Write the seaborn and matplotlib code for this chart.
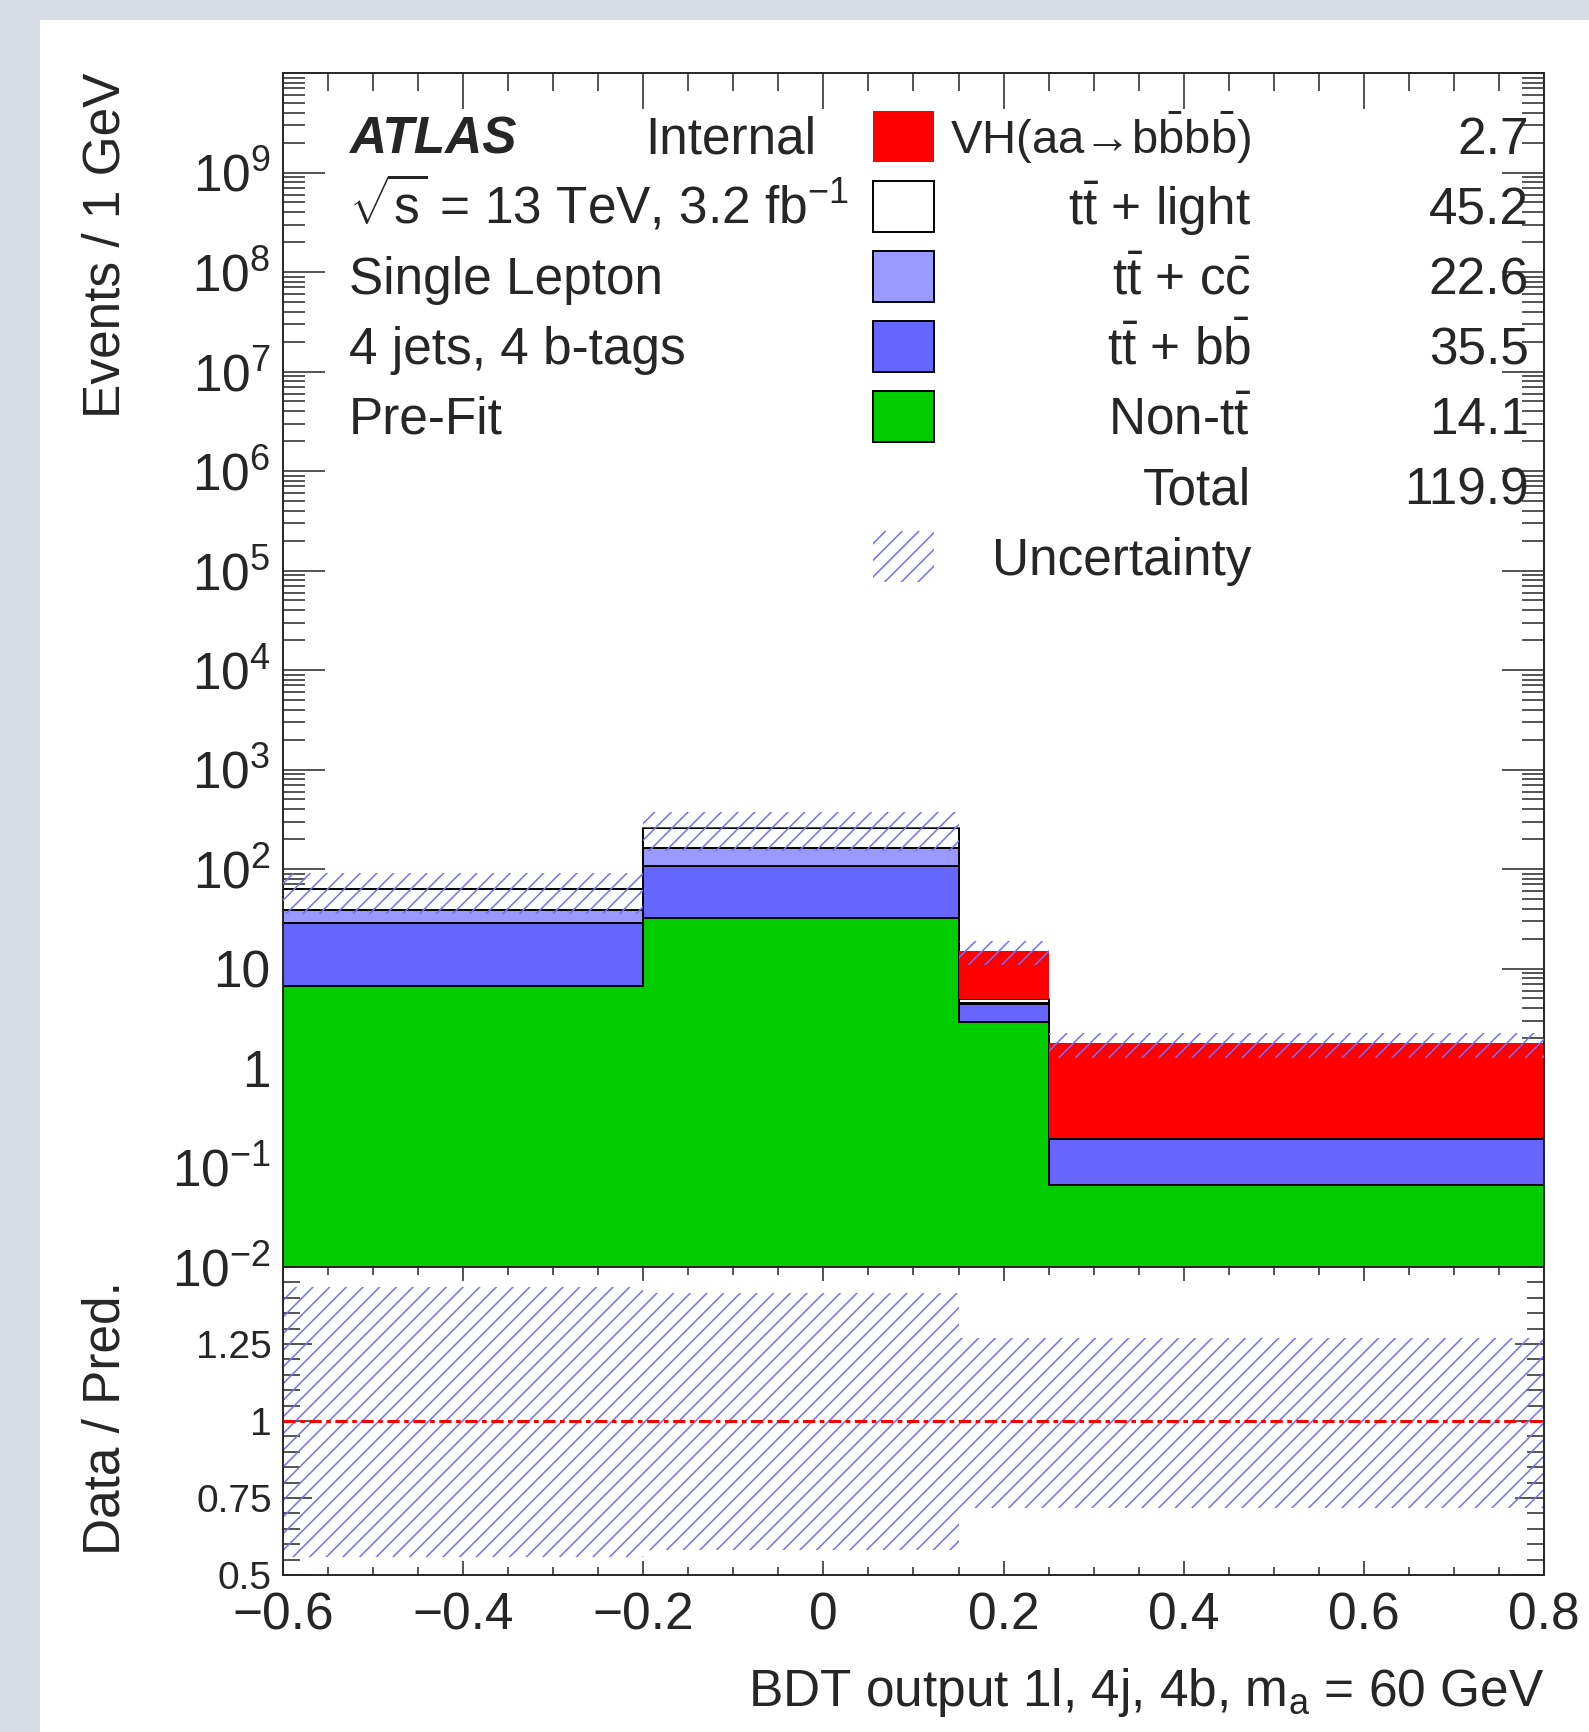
import numpy as np
import pandas as pd
import matplotlib
matplotlib.use("Agg")
import matplotlib.pyplot as plt
import matplotlib.ticker as mticker
from matplotlib.patches import Rectangle
import seaborn as sns

# BDT output binning
edges = [-0.6, -0.2, 0.15, 0.25, 0.8]

# stacked yields per bin (events / 1 GeV), top of the stack first
processes = ["VH", "tt_light", "tt_cc", "tt_bb", "non_tt"]
vh = [0.2, 0.5, 10.1, 1.58]
tt_light = [24.3, 100.0, 0.45, 0.002]
tt_cc = [10.1, 54.0, 0.05, 0.001]
tt_bb = [21.9, 74.8, 1.5, 0.127]
non_tt = [6.7, 32.2, 2.9, 0.067]

# relative uncertainty of the total prediction
unc_up = [0.435, 0.416, 0.27, 0.27]
unc_down = [0.442, 0.42, 0.283, 0.283]

# legend
legend_labels = ["VH(aa\u2192b" + r"$\mathrm{\bar{b}}$" + "b" + r"$\mathrm{\bar{b}}$" + ")",
                 r"$\mathrm{t\bar{t}}$ + light",
                 r"$\mathrm{t\bar{t}}$ + $\mathrm{c\bar{c}}$",
                 r"$\mathrm{t\bar{t}}$ + $\mathrm{b\bar{b}}$",
                 r"Non-$\mathrm{t\bar{t}}$"]
legend_yields = ["2.7", "45.2", "22.6", "35.5", "14.1"]
total_yield = "119.9"
info_lines = [r"$\sqrt{\mathrm{s}}$ = 13 TeV, 3.2 fb$^{\mathrm{-1}}$",
              "Single Lepton", "4 jets, 4 b-tags", "Pre-Fit"]

colors = ["#ff0000", "#ffffff", "#9999ff", "#6666ff", "#00cc00"]
hatch_col = "#7070ff"

sns.set_style("ticks")
plt.rcParams["font.family"] = ["Liberation Sans", "DejaVu Sans"]
plt.rcParams["mathtext.fontset"] = "custom"
plt.rcParams["mathtext.rm"] = "Liberation Sans"
plt.rcParams["mathtext.it"] = "Liberation Sans:italic"
plt.rcParams["mathtext.bf"] = "Liberation Sans:bold"
plt.rcParams["hatch.linewidth"] = 1.1
plt.rcParams["hatch.color"] = hatch_col

centers = [(a + b) / 2 for a, b in zip(edges[:-1], edges[1:])]
rows = []
for name, vals in zip(processes, [vh, tt_light, tt_cc, tt_bb, non_tt]):
    for c, v in zip(centers, vals):
        rows.append({"bdt": c, "events": v, "process": name})
df = pd.DataFrame(rows)

W, H = 1589, 1732
fx = lambda px: px / W
fy = lambda py: 1 - py / H

fig = plt.figure(figsize=(W / 100, H / 100), dpi=100)
fig.patch.set_facecolor("#d6dbe4")
fig.add_artist(Rectangle((fx(40), 0), 1 - fx(40), fy(20), transform=fig.transFigure,
                         facecolor="white", edgecolor="none", zorder=-5))

ax = fig.add_axes([fx(283), fy(1267), fx(1544) - fx(283), fy(73) - fy(1267)])
rax = fig.add_axes([fx(283), fy(1575), fx(1544) - fx(283), fy(1267) - fy(1575)])

sns.histplot(data=df, x="bdt", weights="events", hue="process", hue_order=processes,
             bins=edges, multiple="stack", element="step", fill=True,
             palette=dict(zip(processes, colors)), alpha=1, edgecolor="black",
             linewidth=1.4, legend=False, ax=ax)
for coll in ax.collections:
    fc = coll.get_facecolor()
    if len(fc) and np.allclose(fc[0][:3], [1, 0, 0]):
        coll.set_edgecolor("none")
ax.set_yscale("log")

total = np.sum([vh, tt_light, tt_cc, tt_bb, non_tt], axis=0)
hi = total * (1 + np.array(unc_up))
lo = total * (1 - np.array(unc_down))
ax.fill_between(edges, np.append(lo, lo[-1]), np.append(hi, hi[-1]), step="post",
                facecolor="none", edgecolor=hatch_col, hatch="//", linewidth=0, zorder=4)

r_hi = 1 + np.array(unc_up)
r_lo = 1 - np.array(unc_down)
rax.fill_between(edges, np.append(r_lo, r_lo[-1]), np.append(r_hi, r_hi[-1]), step="post",
                 facecolor="none", edgecolor=hatch_col, hatch="//", linewidth=0, zorder=2)
rax.axhline(1, color="red", linestyle=(0, (4, 1.5, 1.5, 1.5)), linewidth=2.2, zorder=3)

# axes styling
for a in (ax, rax):
    a.set_xlim(-0.6, 0.8)
    a.xaxis.set_major_locator(mticker.MultipleLocator(0.2))
    a.xaxis.set_minor_locator(mticker.MultipleLocator(0.05))
    a.tick_params(which="both", direction="in", top=True, right=True, width=1.1)
    a.set_xlabel("")
    a.set_ylabel("")
    for s in a.spines.values():
        s.set_linewidth(1.4)
    a.set_facecolor("white")

ax.set_ylim(1e-2, 1e10)
ax.yaxis.set_major_locator(mticker.LogLocator(base=10, numticks=30))
ax.yaxis.set_minor_locator(mticker.LogLocator(base=10, subs=np.arange(2, 10), numticks=30))


def log_label(v, pos):
    e = int(round(np.log10(v)))
    if e == 0:
        return "1"
    if e == 1:
        return "10"
    if e >= 10:
        return ""
    return r"$\mathregular{10^{%d}}$" % e


ax.yaxis.set_major_formatter(mticker.FuncFormatter(log_label))
ax.tick_params(axis="y", which="major", length=30, labelsize=37, pad=9)
ax.tick_params(axis="y", which="minor", length=16)
ax.tick_params(axis="x", which="major", length=26, labelbottom=False)
ax.tick_params(axis="x", which="minor", length=13)

rax.set_ylim(0.5, 1.5)
rax.yaxis.set_major_locator(mticker.FixedLocator([0.5, 0.75, 1, 1.25]))
rax.yaxis.set_major_formatter(mticker.FixedFormatter(["0.5", "0.75", "1", "1.25"]))
rax.yaxis.set_minor_locator(mticker.MultipleLocator(0.05))
rax.tick_params(axis="y", which="major", length=21, labelsize=28, pad=8)
rax.tick_params(axis="y", which="minor", length=12)
rax.xaxis.set_major_formatter(mticker.FuncFormatter(lambda v, p: f"{v:g}".replace("-", "\u2212")))
rax.tick_params(axis="x", which="major", length=10, labelsize=37, pad=12)
rax.tick_params(axis="x", which="minor", length=6)

# axis titles
fig.text(fx(106), fy(73), "Events / 1 GeV", rotation=90, ha="center", va="top", fontsize=37)
fig.text(fx(106), fy(1281), "Data / Pred.", rotation=90, ha="center", va="top", fontsize=37)
fig.text(fx(1544), fy(1706), r"BDT output 1l, 4j, 4b, $\mathregular{m_{a}}$ = 60 GeV",
         ha="right", va="baseline", fontsize=37)

# labels block
fig.text(fx(349), fy(154), "ATLAS", fontsize=37, fontweight="bold", fontstyle="italic", va="baseline")
fig.text(fx(645), fy(154), "Internal", fontsize=37, va="baseline")
for i, t in enumerate(info_lines):
    fig.text(fx(349), fy(224 + 70 * i), t, fontsize=37, va="baseline")

# legend
for i, (lab, y, c) in enumerate(zip(legend_labels, legend_yields, colors)):
    cy = 136.5 + 70 * i
    ec = "none" if i == 0 else "black"
    fig.add_artist(Rectangle((fx(873), fy(cy + 25.5)), 61 / W, 51 / H, transform=fig.transFigure,
                             facecolor=c, edgecolor=ec, linewidth=1.4, zorder=5))
    fig.text(fx(1251), fy(cy + 18), lab, ha="right", va="baseline",
             fontsize=34 if i == 0 else 37, zorder=6)
    fig.text(fx(1529), fy(cy + 18), y, ha="right", va="baseline", fontsize=37, zorder=6)
cy = 136.5 + 70 * 5
fig.text(fx(1251), fy(cy + 18), "Total", ha="right", va="baseline", fontsize=37, zorder=6)
fig.text(fx(1529), fy(cy + 18), total_yield, ha="right", va="baseline", fontsize=37, zorder=6)
cy = 136.5 + 70 * 6
fig.add_artist(Rectangle((fx(873), fy(cy + 25.5)), 61 / W, 51 / H, transform=fig.transFigure,
                         facecolor="none", edgecolor=hatch_col, hatch="//", linewidth=0, zorder=5))
fig.text(fx(1251), fy(cy + 18), "Uncertainty", ha="right", va="baseline", fontsize=37, zorder=6)

fig.savefig("out.png", dpi=100)
